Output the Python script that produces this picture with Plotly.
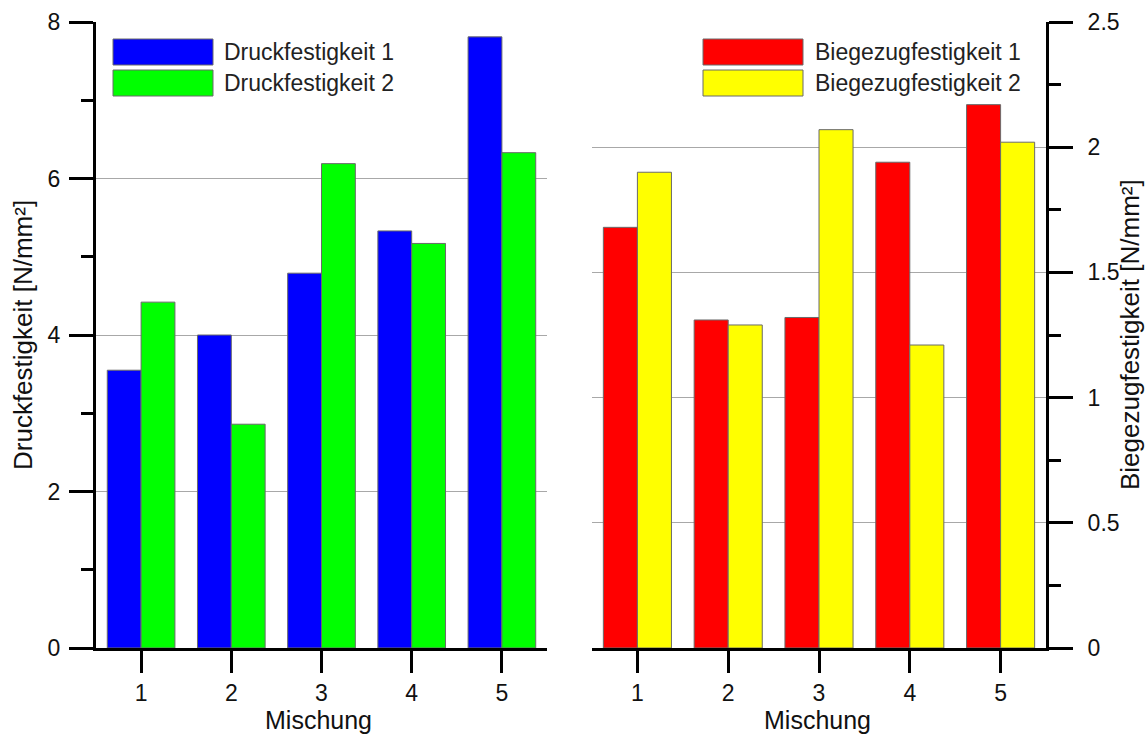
import plotly.graph_objects as go

# Mischung categories and measured strengths
mischung = [1, 2, 3, 4, 5]
druck_1 = [3.55, 4.00, 4.79, 5.33, 7.81]
druck_2 = [4.42, 2.86, 6.19, 5.17, 6.33]
biege_1 = [1.68, 1.31, 1.32, 1.94, 2.17]
biege_2 = [1.90, 1.29, 2.07, 1.21, 2.02]

names_left = ["Druckfestigkeit 1", "Druckfestigkeit 2"]
names_right = ["Biegezugfestigkeit 1", "Biegezugfestigkeit 2"]
colors_left = ["#0000FF", "#00FF00"]
colors_right = ["#FF0000", "#FFFF00"]

W, H = 1145, 734
FONT = "Liberation Sans, Arial, sans-serif"


def fx(px):
    return px / W


def fy(py):
    return 1 - py / H


outline = dict(color="#6a6a6a", width=1)

fig = go.Figure()
for vals, name, col in zip([druck_1, druck_2], names_left, colors_left):
    fig.add_trace(go.Bar(x=mischung, y=vals, name=name, marker=dict(color=col, line=outline),
                         xaxis="x", yaxis="y", showlegend=False))
for vals, name, col in zip([biege_1, biege_2], names_right, colors_right):
    fig.add_trace(go.Bar(x=mischung, y=vals, name=name, marker=dict(color=col, line=outline),
                         xaxis="x2", yaxis="y2", showlegend=False))

tickfont = dict(family=FONT, size=23, color="#111111")
xcommon = dict(range=[0.5, 5.5], tickmode="array", tickvals=mischung,
               ticks="outside", ticklen=22, tickwidth=3, tickcolor="black",
               showline=True, linewidth=3, linecolor="black", showgrid=False,
               zeroline=False, tickfont=tickfont, automargin=False, fixedrange=True)
ycommon = dict(ticks="outside", ticklen=24, tickwidth=3, tickcolor="black",
               showline=True, linewidth=3, linecolor="black",
               showgrid=True, gridcolor="#a8a8a8", gridwidth=1,
               zeroline=False, tickfont=tickfont, automargin=False, fixedrange=True)

fig.update_layout(
    width=W, height=H,
    margin=dict(l=0, r=0, t=0, b=0),
    paper_bgcolor="white", plot_bgcolor="white",
    barmode="group", bargap=0.25, bargroupgap=0,
    xaxis=dict(domain=[fx(96), fx(547)], anchor="y", **xcommon),
    yaxis=dict(domain=[fy(648), fy(22)], anchor="x", range=[0, 8], dtick=2,
               ticklabelstandoff=4,
               minor=dict(dtick=1, ticks="outside", ticklen=12, tickwidth=3,
                          tickcolor="black", showgrid=False),
               **ycommon),
    xaxis2=dict(domain=[fx(592), fx(1046)], anchor="y2", **xcommon),
    yaxis2=dict(domain=[fy(648), fy(22)], anchor="x2", side="right",
                range=[0, 2.5], dtick=0.5, ticklabelstandoff=10,
                minor=dict(dtick=0.25, ticks="outside", ticklen=12, tickwidth=3,
                           tickcolor="black", showgrid=False),
                **ycommon),
)

# Legend boxes drawn as swatches with labels
shapes = []
annotations = []
legend_font = dict(family=FONT, size=23, color="#222222")
for (x0, x1, tx), names, cols in [((113, 213, 222), names_left, colors_left),
                                  ((703, 803, 813), names_right, colors_right)]:
    for i, (name, col) in enumerate(zip(names, cols)):
        y0 = 39 + i * 31
        y1 = y0 + 26
        shapes.append(dict(type="rect", xref="paper", yref="paper",
                           x0=fx(x0), x1=fx(x1), y0=fy(y1), y1=fy(y0),
                           fillcolor=col, line=dict(color="#6a6a6a", width=1)))
        annotations.append(dict(text=name, xref="paper", yref="paper",
                                x=fx(tx), y=fy((y0 + y1) / 2), xanchor="left",
                                yanchor="middle", showarrow=False, font=legend_font))

title_font = dict(family=FONT, size=26, color="#111111")
annotations += [
    dict(text="Druckfestigkeit [N/mm²]", xref="paper", yref="paper",
         x=fx(23), y=fy(335), xanchor="center", yanchor="middle",
         textangle=-90, showarrow=False, font=title_font),
    dict(text="Biegezugfestigkeit [N/mm²]", xref="paper", yref="paper",
         x=fx(1130), y=fy(335), xanchor="center", yanchor="middle",
         textangle=-90, showarrow=False, font=title_font),
    dict(text="Mischung", xref="paper", yref="paper",
         x=fx(319), y=fy(720), xanchor="center", yanchor="middle",
         showarrow=False, font=dict(family=FONT, size=25, color="#111111")),
    dict(text="Mischung", xref="paper", yref="paper",
         x=fx(817), y=fy(720), xanchor="center", yanchor="middle",
         showarrow=False, font=dict(family=FONT, size=25, color="#111111")),
]
fig.update_layout(shapes=shapes, annotations=annotations)

fig.write_html("out.html")
